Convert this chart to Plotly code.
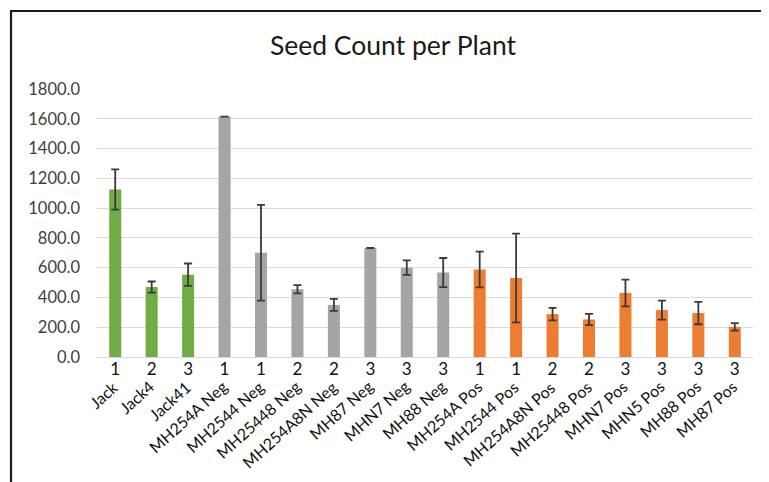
import plotly.graph_objects as go

# ---- data ----
names = ["Jack", "Jack4", "Jack41", "MH254A Neg", "MH2544 Neg", "MH25448 Neg",
         "MH254A8N Neg", "MH87 Neg", "MHN7 Neg", "MH88 Neg", "MH254A Pos",
         "MH2544 Pos", "MH254A8N Pos", "MH25448 Pos", "MHN7 Pos", "MHN5 Pos",
         "MH88 Pos", "MH87 Pos"]
groups = ["1", "2", "3", "1", "1", "2", "2", "3", "3", "3", "1", "1", "2", "2",
          "3", "3", "3", "3"]
kinds = ["ctrl", "ctrl", "ctrl", "neg", "neg", "neg", "neg", "neg", "neg", "neg",
         "pos", "pos", "pos", "pos", "pos", "pos", "pos", "pos"]
seed_mean = [1125, 470, 553, 1615, 700, 455, 350, 732, 600, 567, 588, 530, 288,
             252, 430, 315, 295, 202]
seed_err = [135, 37, 75, 0, 322, 28, 40, 0, 49, 98, 120, 298, 42, 38, 90, 64, 75, 25]
y_ticks = [0, 200, 400, 600, 800, 1000, 1200, 1400, 1600, 1800]

palette = {"ctrl": "#70AD47", "neg": "#A5A5A5", "pos": "#ED7D31"}
FONT = "Lato"

idx = list(range(len(names)))

fig = go.Figure()
fig.add_trace(go.Bar(
    x=idx, y=seed_mean,
    marker=dict(color=[palette[k] for k in kinds], line=dict(width=0)),
    width=0.33,
    error_y=dict(type="data", array=seed_err, visible=True,
                 color="#3a3a3a", thickness=1.8, width=4),
    hoverinfo="skip",
))

# the page body has an 8px margin, so figure coords = screen coords - 8
OFF = 8
W, H = 769, 482
L, T = 97 - OFF, 89 - OFF
R = W - (753 - OFF)
B = H - (357 - OFF)
pw, ph = W - L - R, H - T - B

def px2paper_x(px):
    return (px - OFF - L) / pw

def px2paper_y(py):
    return (H - B - (py - OFF)) / ph

annotations = []
for i, n in zip(idx, names):
    annotations.append(dict(
        x=i, y=px2paper_y(374), xref="x", yref="paper", text=n, showarrow=False,
        textangle=-42, xanchor="right", yanchor="top", xshift=9,
        font=dict(family=FONT, size=16, color="#111111"),
    ))

shapes = [
    dict(type="line", xref="paper", yref="paper",
         x0=px2paper_x(11), x1=px2paper_x(11), y0=px2paper_y(11), y1=px2paper_y(500),
         line=dict(color="#1a1a1a", width=2.2)),
    dict(type="line", xref="paper", yref="paper",
         x0=px2paper_x(10), x1=px2paper_x(790), y0=px2paper_y(11), y1=px2paper_y(11),
         line=dict(color="#1a1a1a", width=2.2)),
]

fig.update_layout(
    width=W, height=H,
    margin=dict(l=L, r=R, t=T, b=B, autoexpand=False),
    paper_bgcolor="white", plot_bgcolor="white",
    showlegend=False,
    title=dict(text="Seed Count per Plant", x=(393 - OFF) / W, xanchor="center",
               y=1 - (46 - OFF) / H, yanchor="middle",
               font=dict(family=FONT, size=26.5, color="#1a1a1a")),
    xaxis=dict(
        tickmode="array", tickvals=idx, ticktext=groups,
        range=[-0.5, len(names) - 0.5], automargin=False,
        showgrid=False, zeroline=False, showline=True,
        linecolor="#D9D9D9", linewidth=1, ticks="",
        tickfont=dict(family=FONT, size=17, color="#111111"),
        ticklabelstandoff=-3,
    ),
    yaxis=dict(
        range=[0, 1800], tickmode="array", tickvals=y_ticks,
        ticktext=[f"{v:.1f}" for v in y_ticks], automargin=False,
        showgrid=True, gridcolor="#D9D9D9", gridwidth=1,
        zeroline=False, showline=False, ticks="",
        tickfont=dict(family=FONT, size=16.5, color="#404040"),
        ticklabelstandoff=16,
    ),
    annotations=annotations,
    shapes=shapes,
    bargap=0.6,
)

fig.write_html("out.html")
